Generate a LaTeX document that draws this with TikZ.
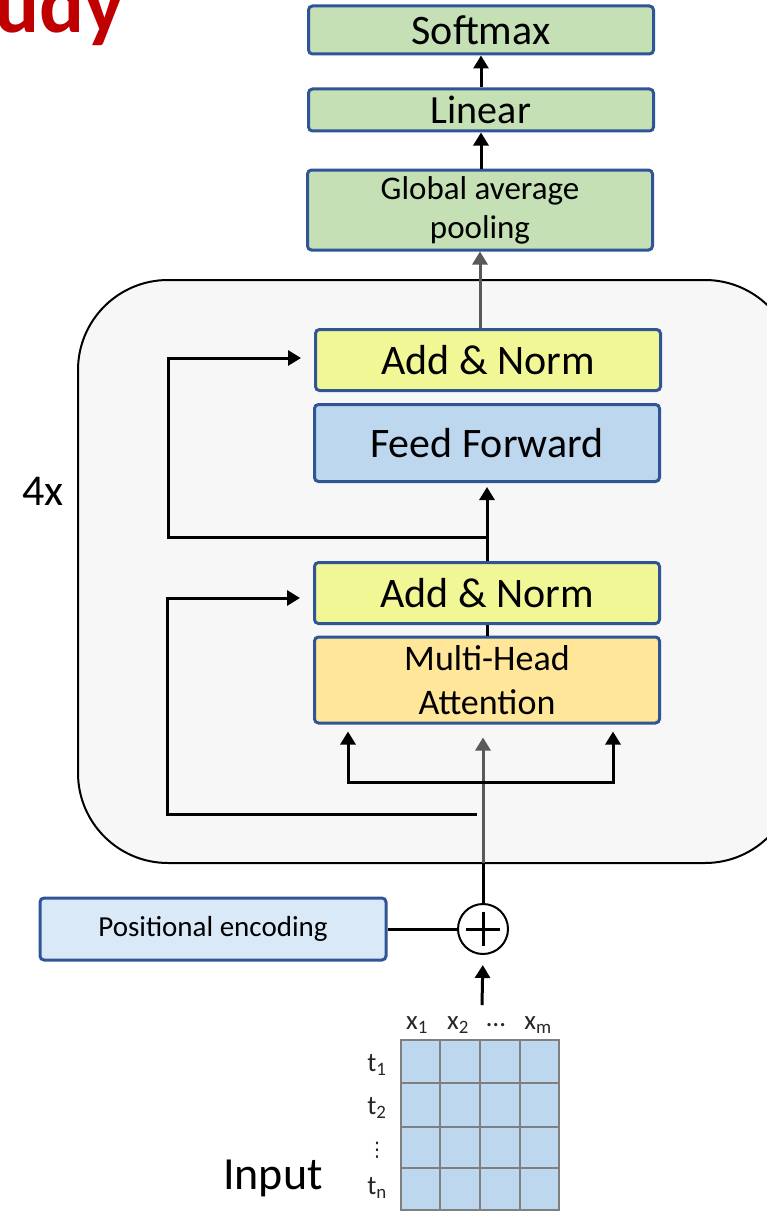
\documentclass[tikz,border=0pt]{standalone}
\usepackage{fontspec}
\setmainfont{Carlito}
\newfontfamily\dejavu{DejaVu Sans}
\usetikzlibrary{arrows.meta,calc}
\definecolor{bordblue}{HTML}{2F5597}
\definecolor{greenfill}{HTML}{C5E0B4}
\definecolor{yellowfill}{HTML}{F1F795}
\definecolor{bluefill}{HTML}{BDD7EE}
\definecolor{orangefill}{HTML}{FFE699}
\definecolor{pefill}{HTML}{DAE9F8}
\definecolor{outerfill}{HTML}{F7F7F7}
\definecolor{titlered}{HTML}{C00000}
\definecolor{gridline}{HTML}{7F7F7F}
\definecolor{shaftgray}{HTML}{595959}
\newcommand{\pxsize}[2]{\fontsize{#1}{#2}\selectfont}
\begin{document}
\begin{tikzpicture}[x=1pt,y=-1pt,
  blk/.style={draw=bordblue, line width=3pt, rounded corners=4pt, minimum width=345pt, inner sep=0pt, align=center},
  arr/.style={line width=3pt, -{Triangle[length=13pt,width=15pt]}},
  grayarr/.style={line width=3pt, draw=shaftgray, -{Triangle[length=13pt,width=15pt]}},
  plainline/.style={line width=3pt},
  lbl/.style={inner sep=0pt, text=black!85, font=\pxsize{27}{30}}]
\useasboundingbox (0,0) rectangle (766,1212);

% title fragment (cut at the left edge, as in the reference)
\node[anchor=base west, inner sep=0pt, text=titlered, font=\bfseries\pxsize{84}{90}] (title) at (-6,33) {udy};

% outer encoder block
\draw[line width=2pt, fill=outerfill, rounded corners=90pt] (78,280) rectangle (795,863);
\node[inner sep=0pt, font=\pxsize{44}{50}] (rep) at (43,491) {4x};

% blocks
\node[blk, fill=greenfill, minimum height=48pt, font=\pxsize{42}{50}] (softmax) at (481,30) {Softmax};
\node[blk, fill=greenfill, minimum height=42pt, font=\pxsize{40}{48}] (linear) at (481,110) {Linear};
\node[blk, fill=greenfill, minimum height=80pt, font=\pxsize{33}{39}] (gap) at (480,210) {Global average\\pooling};
\node[blk, fill=yellowfill, minimum height=61pt, font=\pxsize{42}{50}] (an2) at (488,360) {Add \& Norm};
\node[blk, fill=bluefill, minimum height=77pt, font=\pxsize{42}{50}] (ff) at (487,443) {Feed Forward};
\node[blk, fill=yellowfill, minimum height=61pt, font=\pxsize{42}{50}] (an1) at (487,593) {Add \& Norm};
\node[blk, fill=orangefill, minimum height=86pt, font=\pxsize{36}{44}] (mha) at (487,680) {Multi-Head\\Attention};
\node[blk, fill=pefill, minimum width=346pt, minimum height=62pt, font=\pxsize{29}{34}] (pe) at (213,929) {Positional encoding};
\node[circle, draw, line width=2pt, fill=white, minimum size=50pt, inner sep=0pt] (plus) at (483,929) {};
\draw[line width=3pt] ($(plus.center)+(-17,0)$) -- ($(plus.center)+(17,0)$);
\draw[line width=3pt] ($(plus.center)+(0,-17)$) -- ($(plus.center)+(0,17)$);

% input matrix
\node[draw=gridline, line width=2pt, fill=bluefill, minimum width=158pt, minimum height=170pt, inner sep=0pt] (grid) at (480,1125) {};
\foreach \gx in {440,480,520} {\draw[gridline, line width=2pt] (\gx,1040) -- (\gx,1210);}
\foreach \gy in {1083,1127,1168} {\draw[gridline, line width=2pt] (401,\gy) -- (559,\gy);}
\node[lbl] (c1) at (417,1025) {x\textsubscript{1}};
\node[lbl] (c2) at (458,1025) {x\textsubscript{2}};
\node[lbl] (c3) at (496,1025) {…};
\node[lbl] (c4) at (538,1025) {x\textsubscript{m}};
\node[lbl] (r1) at (377,1065) {t\textsubscript{1}};
\node[lbl] (r2) at (377,1108) {t\textsubscript{2}};
\node[lbl, font=\dejavu\pxsize{20}{24}] (r3) at (377,1150) {⋮};
\node[lbl] (r4) at (377,1188) {t\textsubscript{n}};
\node[inner sep=0pt, font=\pxsize{46}{52}] (inputlbl) at (273,1178) {Input};

% connectors
\coordinate (inp) at (482,1005);
\draw[arr, shorten >=10pt] (inp) -- (plus.south);
\draw[plainline] (pe.east) -- (plus.west);
\coordinate (ob) at (483,863);
\draw[plainline] (plus.north) -- (ob);
\draw[grayarr, shorten >=13pt] (ob) -- (ob |- mha.south);

\coordinate (bl) at (348,782);
\coordinate (br) at (613,782);
\draw[line width=3pt, {Triangle[length=13pt,width=15pt]}-{Triangle[length=13pt,width=15pt]}, shorten <=7pt, shorten >=7pt]
  (bl |- mha.south) -- (bl) -- (br) -- (br |- mha.south);

\coordinate (j1) at (477,814);
\coordinate (k1) at (167,814);
\draw[arr, shorten >=13pt] (j1) -- (k1) |- ([yshift=-5pt]an1.west);

\draw[plainline] (mha.north) -- (an1.south);
\draw[arr, shorten >=4pt] (an1.north) -- (ff.south);
\coordinate (j2) at (487,537);
\coordinate (k2) at (168,537);
\draw[arr, shorten >=13pt] (j2) -- (k2) |- ([yshift=2pt]an2.west);

\draw[grayarr] (an2.north -| gap.south) -- (gap.south);
\draw[arr] (gap.north -| linear.south) -- (linear.south);
\draw[arr] (linear.north) -- (softmax.south);
\end{tikzpicture}
\end{document}
